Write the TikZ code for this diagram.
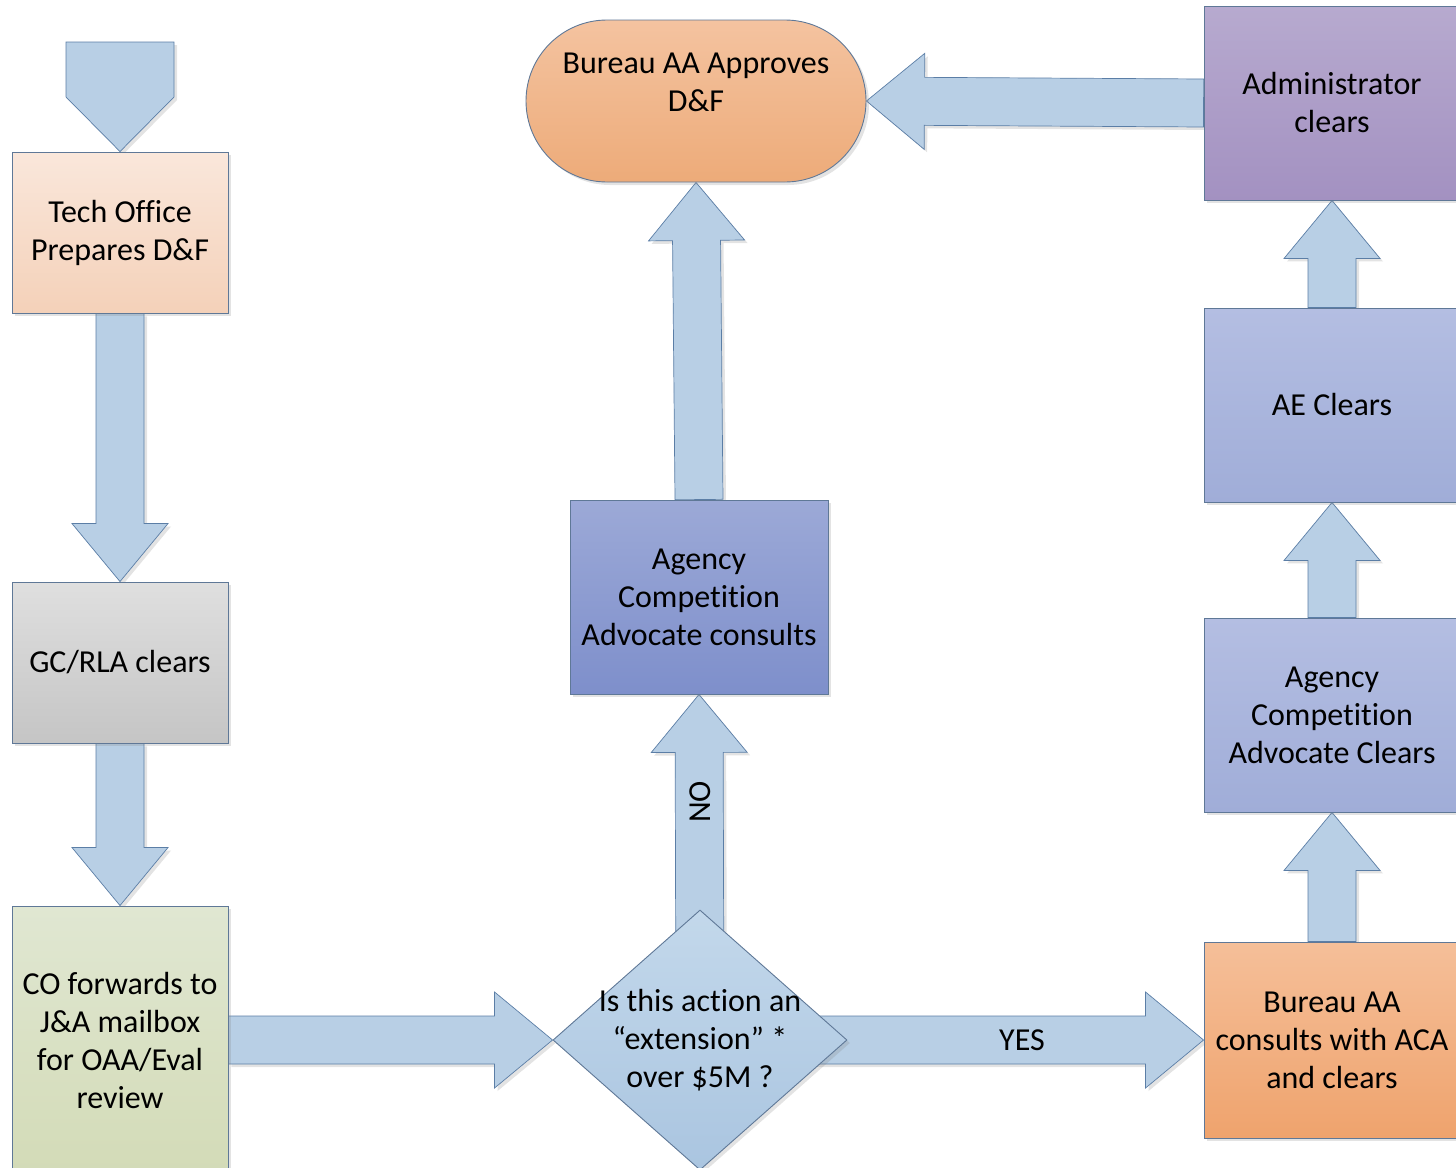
\documentclass[tikz,border=0pt]{standalone}
\usepackage{fontspec}
\setmainfont{Carlito}[RawFeature={-liga}]
\usetikzlibrary{positioning,calc}
\usetikzlibrary{shapes.geometric,shadows}
\pgfdeclarelayer{background}
\pgfsetlayers{background,main}

\definecolor{boxline}{HTML}{5F7897}
\definecolor{arrowline}{HTML}{5B7EA6}
\definecolor{arrowfill}{HTML}{B8CFE5}
\definecolor{techtop}{HTML}{FAE7DB}
\definecolor{techbot}{HTML}{F4D1B9}
\definecolor{gctop}{HTML}{DFDFDF}
\definecolor{gcbot}{HTML}{C5C5C5}
\definecolor{cotop}{HTML}{E0E7D2}
\definecolor{cobot}{HTML}{D3DBB7}
\definecolor{dectop}{HTML}{C3D8EB}
\definecolor{decbot}{HTML}{AAC5E0}
\definecolor{acatop}{HTML}{9CA9D7}
\definecolor{acabot}{HTML}{7E8FCB}
\definecolor{apptop}{HTML}{F4C3A0}
\definecolor{appbot}{HTML}{EDAB79}
\definecolor{admtop}{HTML}{B7AACF}
\definecolor{admbot}{HTML}{A391C1}
\definecolor{lavtop}{HTML}{B4BEE2}
\definecolor{lavbot}{HTML}{A0ADD8}
\definecolor{contop}{HTML}{F5BF99}
\definecolor{conbot}{HTML}{EFA36D}

\newcommand{\boxfont}{\fontsize{32}{38}\selectfont}

\tikzset{
  softshadow/.style={drop shadow={shadow xshift=3pt, shadow yshift=-3pt, opacity=0.22}},
  flowbox/.style={rectangle, draw=boxline, line width=0.9pt, align=center,
    font=\boxfont, inner sep=0pt, softshadow},
  fatarrow/.style={draw=arrowline, fill=arrowfill, line width=0.7pt, line join=miter, softshadow},
  yesno/.style={font=\boxfont, inner sep=0pt}
}

% fat arrow from one point to another: shaft 48, head 96 wide and 58 long
\newcommand{\fatarrow}[2]{%
  \draw[fatarrow] let \p1=($(#2)-(#1)$), \n1={veclen(\x1,\y1)}, \n2={atan2(\y1,\x1)} in
    [shift={(#1)}, rotate=\n2]
    (0,-24) -- (\n1-58,-24) -- (\n1-58,-48) -- (\n1,0)
    -- (\n1-58,48) -- (\n1-58,24) -- (0,24) -- cycle;}

\begin{document}
\begin{tikzpicture}[x=1pt, y=-1pt]
  \useasboundingbox (0,0) rectangle (1456,1167);

  % left column
  \coordinate (start) at (120,42);
  \node (tech) [flowbox, minimum width=216pt, minimum height=161pt,
    top color=techtop, bottom color=techbot] at (120,232.5)
    {Tech Office\\Prepares D\&F};
  \node (gc) [flowbox, minimum width=216pt, minimum height=161pt,
    top color=gctop, bottom color=gcbot] at (120,662.5) {GC/RLA clears};
  \node (co) [flowbox, minimum width=216pt, minimum height=268pt,
    top color=cotop, bottom color=cobot] at (120,1040)
    {CO forwards to\\J\&A mailbox\\for OAA/Eval\\review};

  % middle column
  \node (decision) [diamond, draw=boxline, line width=0.9pt, inner sep=0pt,
    minimum width=294pt, minimum height=260pt, top color=dectop, bottom color=decbot,
    softshadow,
    label={[name=dectext, align=center, font=\boxfont]center:Is this action an\\“extension” *\\over \$5M ?}]
    at (700,1040) {};
  \node (acaconsult) [flowbox, minimum width=258pt, minimum height=194pt,
    top color=acatop, bottom color=acabot] at (699,597)
    {Agency\\Competition\\Advocate consults};
  \node (approve) [flowbox, rounded corners=81pt, minimum width=340pt, minimum height=162pt,
    top color=apptop, bottom color=appbot] at (696,101)
    {Bureau AA Approves\\D\&F\\\mbox{}};

  % right column
  \node (admin) [flowbox, minimum width=256pt, minimum height=194pt,
    top color=admtop, bottom color=admbot] at (1332,103) {Administrator\\clears};
  \node (ae) [flowbox, minimum width=256pt, minimum height=194pt,
    top color=lavtop, bottom color=lavbot] at (1332,405) {AE Clears};
  \node (acaclear) [flowbox, minimum width=256pt, minimum height=194pt,
    top color=lavtop, bottom color=lavbot] at (1332,715)
    {Agency\\Competition\\Advocate Clears};
  \node (consult) [flowbox, minimum width=256pt, minimum height=196pt,
    top color=contop, bottom color=conbot] at (1332,1040)
    {Bureau AA\\consults with ACA\\and clears};

  % arrows behind the boxes
  \begin{pgfonlayer}{background}
    % entry arrow
    \draw[fatarrow] ($(start)+(-54,0)$) -- ($(start)+(54,0)$) -- ($(start)+(54,55)$)
      -- (tech.north) -- ($(start)+(-54,55)$) -- cycle;
    \fatarrow{tech.south}{gc.north}
    \fatarrow{gc.south}{co.north}
    \fatarrow{co.east}{decision.west}
    \fatarrow{decision.center}{consult.west}
    \fatarrow{decision.center}{acaconsult.south}
    \fatarrow{acaconsult.north}{approve.south}
    \fatarrow{admin.west}{approve.east}
    \fatarrow{ae.north}{admin.south}
    \fatarrow{acaclear.north}{ae.south}
    \fatarrow{consult.north}{acaclear.south}
  \end{pgfonlayer}

  \node (no) [yesno, rotate=90] at (700,802) {NO};
  \node (yes) [yesno] at (1022,1040) {YES};
\end{tikzpicture}
\end{document}
